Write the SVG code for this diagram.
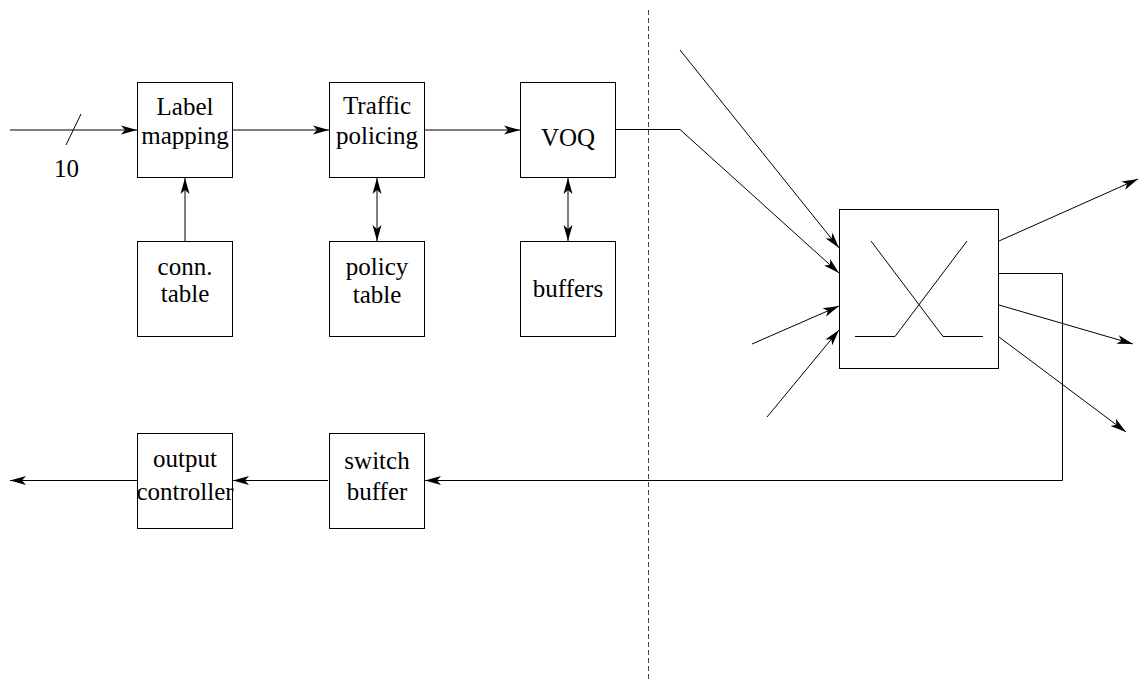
<svg xmlns="http://www.w3.org/2000/svg" width="1139" height="686" viewBox="0 0 1139 686">
<defs>
<marker id="ah" markerUnits="userSpaceOnUse" markerWidth="18" markerHeight="12" viewBox="-17 -6 18 12" refX="0" refY="0" orient="auto-start-reverse">
<path d="M0,0 L-16,-4.5 L-12,0 L-16,4.5 Z" fill="#000"/>
</marker>
<style>
.box{fill:#fff;stroke:#000;stroke-width:1}
.ln{fill:none;stroke:#000;stroke-width:1}
.t{font-family:"Liberation Serif","Times New Roman",serif;font-size:25px;fill:#000;text-anchor:middle}
</style>
</defs>
<rect width="1139" height="686" fill="#fff"/>
<line x1="648.5" y1="10" x2="648.5" y2="682" stroke="#444" stroke-width="1" stroke-dasharray="5,3"/>
<g id="connectors">
<line class="ln" x1="10" y1="130" x2="137" y2="130" marker-end="url(#ah)"/>
<line class="ln" x1="66" y1="145" x2="81" y2="114"/>
<line class="ln" x1="233" y1="130" x2="329" y2="130" marker-end="url(#ah)"/>
<line class="ln" x1="425" y1="130" x2="520" y2="130" marker-end="url(#ah)"/>
<line class="ln" x1="185" y1="241" x2="185" y2="178" marker-end="url(#ah)"/>
<line class="ln" x1="377" y1="178" x2="377" y2="241" marker-start="url(#ah)" marker-end="url(#ah)"/>
<line class="ln" x1="568" y1="178" x2="568" y2="241" marker-start="url(#ah)" marker-end="url(#ah)"/>
<polyline class="ln" points="616,129.5 680,129.5 839,273" marker-end="url(#ah)"/>
<line class="ln" x1="680" y1="50" x2="839" y2="248" marker-end="url(#ah)"/>
<line class="ln" x1="752" y1="344" x2="839" y2="306" marker-end="url(#ah)"/>
<line class="ln" x1="767" y1="417" x2="839" y2="330" marker-end="url(#ah)"/>
<line class="ln" x1="999" y1="241" x2="1138" y2="179" marker-end="url(#ah)"/>
<line class="ln" x1="999" y1="305" x2="1133" y2="344" marker-end="url(#ah)"/>
<line class="ln" x1="999" y1="337" x2="1126" y2="432" marker-end="url(#ah)"/>
<polyline class="ln" points="999,273.5 1062.5,273.5 1062.5,480.5 425,480.5" marker-end="url(#ah)"/>
<line class="ln" x1="328" y1="480.5" x2="233" y2="480.5" marker-end="url(#ah)"/>
<line class="ln" x1="137" y1="480.5" x2="10" y2="480.5" marker-end="url(#ah)"/>
</g>
<text class="t" x="66.5" y="177">10</text>
<g id="label-mapping">
<rect class="box" x="137.5" y="82.5" width="95" height="95"/>
<text class="t" x="185" y="115">Label</text>
<text class="t" x="185" y="144">mapping</text>
</g>
<g id="traffic-policing">
<rect class="box" x="329.5" y="82.5" width="95" height="95"/>
<text class="t" x="377" y="114">Traffic</text>
<text class="t" x="377" y="144">policing</text>
</g>
<g id="voq">
<rect class="box" x="520.5" y="82.5" width="95" height="95"/>
<text class="t" x="568" y="146">VOQ</text>
</g>
<g id="conn-table">
<rect class="box" x="137.5" y="241.5" width="95" height="95"/>
<text class="t" x="185" y="275">conn.</text>
<text class="t" x="185" y="302">table</text>
</g>
<g id="policy-table">
<rect class="box" x="329.5" y="241.5" width="95" height="95"/>
<text class="t" x="377" y="275">policy</text>
<text class="t" x="377" y="303">table</text>
</g>
<g id="buffers">
<rect class="box" x="520.5" y="241.5" width="95" height="95"/>
<text class="t" x="568" y="297">buffers</text>
</g>
<g id="switch">
<rect class="box" x="839.5" y="209.5" width="159" height="159"/>
<polyline class="ln" points="871,241 943,336.5 983,336.5"/>
<polyline class="ln" points="967,241 895,336.5 855,336.5"/>
</g>
<g id="output-controller">
<rect class="box" x="137.5" y="433.5" width="95" height="95"/>
<text class="t" x="185" y="467">output</text>
<text class="t" x="185" y="500">controller</text>
</g>
<g id="switch-buffer">
<rect class="box" x="329.5" y="433.5" width="95" height="95"/>
<text class="t" x="377" y="469">switch</text>
<text class="t" x="377" y="500">buffer</text>
</g>
</svg>
